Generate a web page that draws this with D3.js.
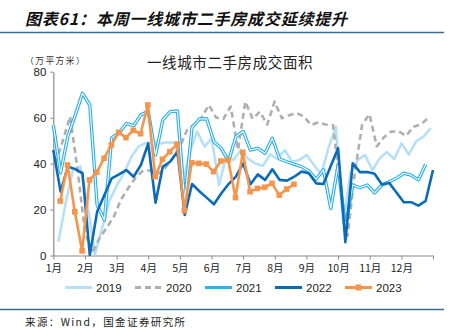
<!DOCTYPE html>
<html>
<head>
<meta charset="utf-8">
<script src="https://cdn.jsdelivr.net/npm/d3@7"></script>
<style>
  body { margin: 0; background: #fff; }
  svg { display: block; font-family: "Liberation Sans", Arial, sans-serif; }
  .cjk { font-family: "Noto Sans CJK SC", sans-serif; }
</style>
</head>
<body>
<svg id="chart"></svg>
<script>
    /* weekly transaction area, 万平方米 */
    let months = ['1月','2月','3月','4月','5月','6月','7月','8月','9月','10月','11月','12月'];
    let years = ['2019','2020','2021','2022','2023'];
    let yTicks = [0, 20, 40, 60, 80];

    let v2019 = [6, 23, 37.5, 38.8, 22, 0.5, 12, 24, 30.5, 36,
                 43, 47.5, 49, 49.3, 48.8, 49.3, 49, 31.5, 45, 54,
                 47.4, 51, 30.5, 43.5, 41.6, 46, 42, 40, 39, 44,
                 42, 45.9, 40.8, 41.6, 43.7, 39.4, 35.3, 47, 56, 14,
                 36, 41.6, 43.7, 37.2, 42.3, 45, 42, 48.8, 44, 49.8, 51.7, 55.4];
    let v2020 = [40, 50, 60.5, 38, 11, 1, 7.5, 12, 17, 24.5,
                 29.5, 34, 37, 37, 35.5, 38, 42, 47, 54.5, 57,
                 60, 65.5, 60, 59.5, 64.8, 46, 67, 59.5, 62.6, 57,
                 67, 59.7, 61, 62, 60.5, 56.8, 58, 57, 56.8, 30,
                 8.5, 36, 57, 61.5, 47.5, 51.5, 54, 54, 52, 56, 57, 59.7];
    let v2021 = [56.8, 36, 52, 61, 70.6, 65.5, 22, 15.5, 51.3, 53.2,
                 57.5, 56.5, 61.2, 62.8, 43.7, 59, 62.6, 62.9, 23.4, 55.8,
                 59.4, 59.5, 49.5, 46.7, 41, 51.7, 54, 45.9, 46.7, 44.5,
                 51, 42, 40.8, 39.7, 38.7, 36.8, 33.2, 37.3, 20.5, 39.4,
                 12, 30.7, 29.5, 30.7, 27.3, 30.7, 32.1, 33.6, 35.8, 35, 32.9, 39.7];
    let v2022 = [45.9, 27.8, 38.7, 37.6, 35.8, 0.2, 19, 26.3, 33.6, 35.3,
                 37.2, 34.3, 39.4, 48.8, 23, 38.7, 40.8, 45.2, 17.6, 31.1,
                 28, 25.2, 22.3, 27, 31.1, 34.3, 40.1, 31, 35.3, 32.9,
                 37.5, 32.9, 32.6, 34.3, 36.5, 35.8, 31.4, 31.1, 39, 46.7,
                 5.8, 40.1, 36.3, 36.3, 35.6, 30.9, 31.6, 27.4, 23.2, 23.2, 21.7, 23.8, 37.2];
    let v2023 = [23.7, 39.4, 19, 2, 32.9, 36.2, 42.3, 48.1, 53.6, 51.3,
                 54.5, 53, 65.5, 34.3, 41.9, 45.2, 48.5, 19.5, 40.4, 40.1,
                 39.8, 36.5, 41.1, 41.6, 25.2, 44.9, 27.8, 29.2, 29.7, 31.4,
                 26.3, 28.9, 31];

    let width = 455;
    let height = 336;
    let plotLeft = 53.3, plotRight = 433, plotTop = 71.7, plotBottom = 255.5;

    // series: values, first week on the axis, look
    let series = [
        { name: '2019', values: v2019, start: 0.7,  color: '#b6e0f6', w: 2.6 },
        { name: '2020', values: v2020, start: 0.3,  color: '#afafaf', w: 2.6, dash: '6,4' },
        { name: '2021', values: v2021, start: 0,    color: '#2db1e9', w: 3.4, inner: true },
        { name: '2022', values: v2022, start: 0,    color: '#0b6bb9', w: 2.6 },
        { name: '2023', values: v2023, start: 0.95, color: '#f5944b', w: 2.6, marker: true }
    ];

    const svg = d3.select('#chart').attr('width', width).attr('height', height);

    let xScale = d3.scaleLinear().domain([0, 52]).range([plotLeft, plotRight]);
    let yScale = d3.scaleLinear().domain([0, 80]).range([plotBottom, plotTop]);

    // header
    svg.append('text').attr('class', 'cjk')
        .attr('x', 25).attr('y', 25)
        .attr('font-size', 16).attr('font-weight', 'bold').attr('font-style', 'italic')
        .attr('letter-spacing', 0.8).attr('fill', '#111')
        .text('图表61：本周一线城市二手房成交延续提升');
    svg.append('line').attr('x1', 0).attr('x2', 444).attr('y1', 32.5).attr('y2', 32.5)
        .attr('stroke', '#3d6b8f').attr('stroke-width', 1.4);

    svg.append('text').attr('class', 'cjk')
        .attr('x', 25).attr('y', 63.5).attr('font-size', 8.8).attr('fill', '#333')
        .attr('letter-spacing', 1.4)
        .text('（万平方米）');
    svg.append('text').attr('class', 'cjk')
        .attr('x', 147).attr('y', 68).attr('font-size', 14.5).attr('fill', '#222')
        .attr('letter-spacing', 0.6)
        .text('一线城市二手房成交面积');

    // axes
    let xAxis = d3.axisBottom(xScale)
        .tickValues(d3.range(13).map(m => m * 52 / 12))
        .tickSize(4).tickSizeOuter(0)
        .tickFormat((d, i) => i < 12 ? months[i] : '');
    let gx = svg.append('g').attr('transform', 'translate(0,' + plotBottom + ')').call(xAxis);
    gx.selectAll('text').attr('class', 'cjk').attr('font-size', 10.5).attr('fill', '#222').attr('dy', '0.95em');

    let yAxis = d3.axisLeft(yScale).tickValues(yTicks).tickSize(3).tickSizeOuter(0).tickPadding(4);
    let gy = svg.append('g').attr('transform', 'translate(' + plotLeft + ',0)').call(yAxis);
    gy.selectAll('text').attr('font-size', 11.5).attr('fill', '#222');

    svg.selectAll('.domain, .tick line').attr('stroke', '#8a8a8a');
    svg.selectAll('.domain').attr('stroke-width', 1.2);

    // lines
    const line = d3.line();
    series.forEach(s => {
        let pts = s.values.map((v, i) => [xScale(s.start + i), yScale(v)]);
        let p = svg.append('path').attr('d', line(pts))
            .attr('fill', 'none').attr('stroke', s.color)
            .attr('stroke-width', s.w).attr('stroke-linejoin', 'round');
        if (s.dash) p.attr('stroke-dasharray', s.dash);
        if (s.inner) {
            svg.append('path').attr('d', line(pts))
                .attr('fill', 'none').attr('stroke', '#fff')
                .attr('stroke-width', 1.1).attr('stroke-linejoin', 'round');
        }
        if (s.marker) {
            svg.append('g').selectAll('rect').data(pts).enter().append('rect')
                .attr('x', d => d[0] - 2.8).attr('y', d => d[1] - 2.8)
                .attr('width', 5.6).attr('height', 5.6)
                .attr('fill', s.color);
        }
    });

    // legend
    let legendX = [65, 135, 205, 275, 345];
    let lg = svg.append('g').attr('transform', 'translate(0,287.5)');
    series.forEach((s, i) => {
        let x0 = legendX[i];
        let l = lg.append('line').attr('x1', x0).attr('x2', x0 + 27).attr('y1', 0).attr('y2', 0)
            .attr('stroke', s.color).attr('stroke-width', 3);
        if (s.dash) l.attr('stroke-dasharray', '6,4');
        if (s.marker) {
            lg.append('rect').attr('x', x0 + 13.5 - 3).attr('y', -3).attr('width', 6).attr('height', 6)
                .attr('fill', s.color);
        }
        lg.append('text').attr('x', x0 + 31).attr('y', 4.2)
            .attr('font-size', 11.5).attr('fill', '#222').text(years[i]);
    });

    // footer
    svg.append('line').attr('x1', 0).attr('x2', 444).attr('y1', 309.5).attr('y2', 309.5)
        .attr('stroke', '#3d6b8f').attr('stroke-width', 1.4);
    svg.append('text').attr('class', 'cjk')
        .attr('x', 25).attr('y', 325.5).attr('font-size', 10.5).attr('fill', '#222')
        .attr('letter-spacing', 1.4)
        .text('来源：Wind，国金证券研究所');
</script>
</body>
</html>
